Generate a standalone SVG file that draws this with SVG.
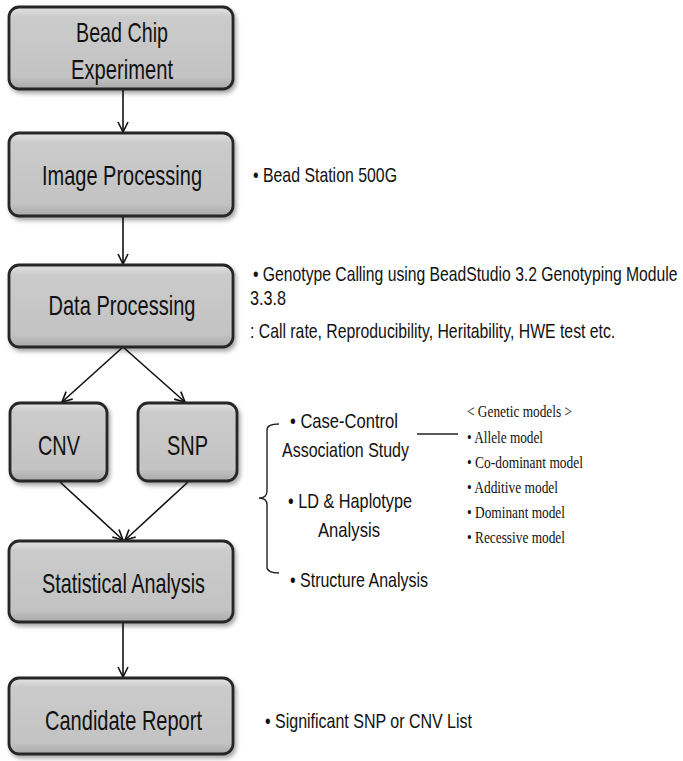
<svg xmlns="http://www.w3.org/2000/svg" width="683" height="761" viewBox="0 0 683 761">
<style>
.box{fill:url(#g);stroke:#262626;stroke-width:2.8;filter:url(#sh)}
.bt{font-family:"Liberation Sans",Arial,sans-serif;font-size:28px;fill:#111;text-anchor:middle}
.rt{font-family:"Liberation Sans",Arial,sans-serif;font-size:21px;fill:#111}
.st{font-family:"Liberation Serif","Times New Roman",serif;font-size:17px;fill:#111}
.cn{stroke:#111;stroke-width:1.6;fill:none;marker-end:url(#ah)}
.ln{stroke:#222;stroke-width:1.4;fill:none}
</style>
<defs>
<linearGradient id="g" x1="0" y1="0" x2="0" y2="1">
<stop offset="0" stop-color="#e4e4e4"/>
<stop offset="0.12" stop-color="#cbcbcb"/>
<stop offset="0.85" stop-color="#c3c3c3"/>
<stop offset="1" stop-color="#a9a9a9"/>
</linearGradient>
<filter id="sh" x="-10%" y="-10%" width="125%" height="135%">
<feDropShadow dx="2" dy="3" stdDeviation="2" flood-color="#000" flood-opacity="0.35"/>
</filter>
<marker id="ah" viewBox="0 0 12 12" refX="11" refY="6" markerWidth="12" markerHeight="12" markerUnits="userSpaceOnUse" orient="auto">
<path d="M1,1 L11,6 L1,11" fill="none" stroke="#111" stroke-width="1.6"/>
</marker>
</defs>
<rect width="683" height="761" fill="#fff"/>
<g id="connectors">
<line class="cn" x1="123" y1="89" x2="123" y2="132"/>
<line class="cn" x1="123" y1="216" x2="123" y2="264"/>
<line class="cn" x1="123" y1="347" x2="62" y2="402"/>
<line class="cn" x1="123" y1="347" x2="185" y2="402"/>
<line class="cn" x1="60" y1="482" x2="123" y2="540"/>
<line class="cn" x1="188" y1="482" x2="125" y2="540"/>
<line class="cn" x1="123" y1="622" x2="123" y2="677"/>
</g>
<g id="bead-chip">
<rect class="box" x="9" y="7" width="224" height="82" rx="10"/>
<text class="bt" x="122" y="42" textLength="92" lengthAdjust="spacingAndGlyphs">Bead Chip</text>
<text class="bt" x="122" y="79" textLength="102" lengthAdjust="spacingAndGlyphs">Experiment</text>
</g>
<g id="image-processing">
<rect class="box" x="9" y="133" width="224" height="83" rx="10"/>
<text class="bt" x="122" y="185" textLength="160" lengthAdjust="spacingAndGlyphs">Image Processing</text>
</g>
<g id="data-processing">
<rect class="box" x="9" y="265" width="224" height="82" rx="10"/>
<text class="bt" x="122" y="315" textLength="147" lengthAdjust="spacingAndGlyphs">Data Processing</text>
</g>
<g id="cnv">
<rect class="box" x="10" y="403" width="97" height="78" rx="10"/>
<text class="bt" x="59" y="455" textLength="42" lengthAdjust="spacingAndGlyphs">CNV</text>
</g>
<g id="snp">
<rect class="box" x="138" y="403" width="99" height="78" rx="10"/>
<text class="bt" x="187.5" y="455" textLength="41" lengthAdjust="spacingAndGlyphs">SNP</text>
</g>
<g id="statistical-analysis">
<rect class="box" x="9" y="541" width="224" height="81" rx="10"/>
<text class="bt" x="123.5" y="593" textLength="163" lengthAdjust="spacingAndGlyphs">Statistical Analysis</text>
</g>
<g id="candidate-report">
<rect class="box" x="9" y="678" width="224" height="76" rx="10"/>
<text class="bt" x="123.5" y="730" textLength="157" lengthAdjust="spacingAndGlyphs">Candidate Report</text>
</g>
<g id="notes">
<text class="rt" x="253" y="182" textLength="144" lengthAdjust="spacingAndGlyphs">• Bead Station 500G</text>
<text class="rt" transform="translate(253,281) scale(0.75,1)" x="0" y="0" textLength="566" lengthAdjust="spacingAndGlyphs">• Genotype Calling using BeadStudio 3.2 Genotyping Module</text>
<text class="rt" x="250" y="305" textLength="36" lengthAdjust="spacingAndGlyphs">3.3.8</text>
<text class="rt" transform="translate(250,338) scale(0.75,1)" x="0" y="0" textLength="487" lengthAdjust="spacingAndGlyphs">: Call rate, Reproducibility, Heritability, HWE test etc.</text>
<text class="rt" x="265" y="728" textLength="207" lengthAdjust="spacingAndGlyphs">• Significant SNP or CNV List</text>
</g>
<g id="analysis-list">
<path class="ln" d="M279,424 Q267,424 267,430 L267,491 Q267,498 259,498 Q267,498 267,505 L267,567 Q267,573 279,573"/>
<text class="rt" x="290" y="428" textLength="108" lengthAdjust="spacingAndGlyphs">• Case-Control</text>
<text class="rt" x="282" y="457" textLength="127" lengthAdjust="spacingAndGlyphs">Association Study</text>
<text class="rt" x="288" y="508" textLength="124" lengthAdjust="spacingAndGlyphs">• LD &amp; Haplotype</text>
<text class="rt" x="318" y="537" textLength="62" lengthAdjust="spacingAndGlyphs">Analysis</text>
<text class="rt" x="290" y="587" textLength="138" lengthAdjust="spacingAndGlyphs">• Structure Analysis</text>
<line class="ln" x1="417" y1="434" x2="458" y2="434"/>
</g>
<g id="genetic-models">
<text class="st" x="467" y="417" textLength="105" lengthAdjust="spacingAndGlyphs">&lt; Genetic models &gt;</text>
<text class="st" x="467" y="443" textLength="76" lengthAdjust="spacingAndGlyphs">• Allele model</text>
<text class="st" x="467" y="468" textLength="116" lengthAdjust="spacingAndGlyphs">• Co-dominant model</text>
<text class="st" x="467" y="493" textLength="91" lengthAdjust="spacingAndGlyphs">• Additive model</text>
<text class="st" x="467" y="518" textLength="98" lengthAdjust="spacingAndGlyphs">• Dominant model</text>
<text class="st" x="467" y="543" textLength="98" lengthAdjust="spacingAndGlyphs">• Recessive model</text>
</g>
</svg>
